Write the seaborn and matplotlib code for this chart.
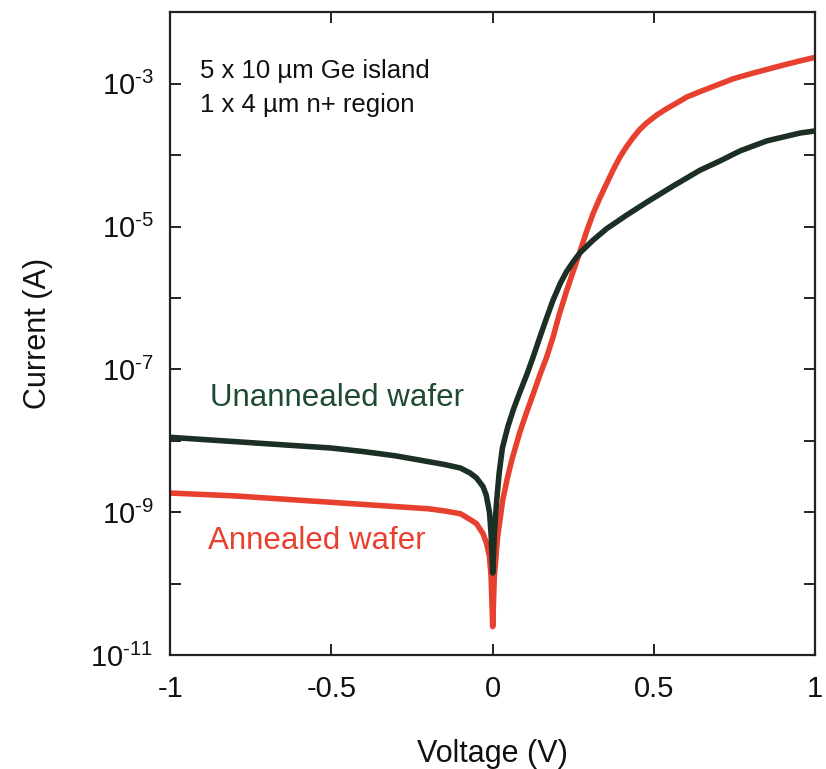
import numpy as np
import pandas as pd
import matplotlib
matplotlib.use("Agg")
import matplotlib.pyplot as plt
import matplotlib.ticker as mticker
import seaborn as sns

# ---- data ----
v_unannealed = [-1.0, -0.9, -0.8, -0.7, -0.6, -0.5, -0.4, -0.3, -0.2, -0.15, -0.1, -0.07,
                -0.05, -0.03, -0.02, -0.01, -0.005, 0.0, 0.005, 0.012, 0.02, 0.03, 0.047,
                0.065, 0.084, 0.105, 0.125, 0.146, 0.167, 0.187, 0.21, 0.229, 0.25, 0.27,
                0.311, 0.353, 0.415, 0.477, 0.56, 0.643, 0.705, 0.767, 0.85, 0.953, 1.0]
log_i_unannealed = [-7.95, -7.98, -8.01, -8.04, -8.07, -8.10, -8.15, -8.21, -8.29, -8.33, -8.38, -8.45,
                    -8.52, -8.64, -8.76, -9.00, -9.30, -9.85, -9.30, -8.85, -8.45, -8.10, -7.80,
                    -7.55, -7.32, -7.08, -6.83, -6.55, -6.28, -6.03, -5.79, -5.63, -5.49, -5.37,
                    -5.19, -5.03, -4.84, -4.66, -4.43, -4.21, -4.08, -3.94, -3.80, -3.69, -3.66]

v_annealed = [-1.0, -0.9, -0.8, -0.7, -0.6, -0.5, -0.4, -0.3, -0.2, -0.15, -0.1, -0.07,
              -0.05, -0.03, -0.02, -0.01, -0.005, 0.0, 0.005, 0.015, 0.031, 0.045, 0.059,
              0.084, 0.105, 0.125, 0.146, 0.167, 0.187, 0.205, 0.229, 0.25, 0.27, 0.29,
              0.311, 0.332, 0.353, 0.374, 0.394, 0.415, 0.436, 0.456, 0.477, 0.508, 0.539,
              0.57, 0.602, 0.643, 0.7, 0.746, 0.8, 0.85, 0.9, 0.953, 1.0]
log_i_annealed = [-8.73, -8.75, -8.77, -8.80, -8.83, -8.86, -8.89, -8.92, -8.95, -8.98, -9.02, -9.10,
                  -9.16, -9.30, -9.42, -9.62, -9.90, -10.60, -9.90, -9.35, -8.83, -8.53, -8.27,
                  -7.88, -7.60, -7.35, -7.08, -6.83, -6.55, -6.25, -5.90, -5.62, -5.36, -5.08,
                  -4.82, -4.60, -4.40, -4.20, -4.03, -3.88, -3.75, -3.64, -3.55, -3.44, -3.35,
                  -3.27, -3.185, -3.11, -3.01, -2.93, -2.86, -2.80, -2.74, -2.68, -2.63]

series_names = ["Unannealed wafer", "Annealed wafer"]
x_ticks = [-1, -0.5, 0, 0.5, 1]
x_tick_labels = ["-1", "-0.5", "0", "0.5", "1"]
info_lines = ["5 x 10 \u00b5m Ge island", "1 x 4 \u00b5m n+ region"]

df = pd.concat([
    pd.DataFrame({"Voltage": v_unannealed, "Current": np.power(10.0, log_i_unannealed),
                  "Sample": series_names[0]}),
    pd.DataFrame({"Voltage": v_annealed, "Current": np.power(10.0, log_i_annealed),
                  "Sample": series_names[1]}),
], ignore_index=True)

# ---- style ----
sns.set_theme(style="white")
plt.rcParams["font.family"] = ["Liberation Sans", "DejaVu Sans"]
plt.rcParams["mathtext.fontset"] = "custom"
plt.rcParams["mathtext.rm"] = "Liberation Sans"
plt.rcParams["mathtext.it"] = "Liberation Sans"
plt.rcParams["mathtext.bf"] = "Liberation Sans"
plt.rcParams["mathtext.default"] = "regular"

line_dark = "#1b2f24"
text_dark = "#1e4a31"
red = "#e8402f"

fig = plt.figure(figsize=(8.26, 7.69), dpi=100)
ax = fig.add_axes([0.206, 0.148, 0.781, 0.836])

sns.lineplot(data=df, x="Voltage", y="Current", hue="Sample",
             palette={series_names[0]: line_dark, series_names[1]: red},
             hue_order=[series_names[1], series_names[0]],
             estimator=None, linewidth=4.0, legend=False, ax=ax)

ax.set_yscale("log")
ax.set_xlim(-1, 1)
ax.set_ylim(1e-11, 1e-2)

ax.set_xticks(x_ticks)
ax.set_xticklabels(x_tick_labels)

ax.yaxis.set_major_locator(mticker.LogLocator(base=10, numticks=20))
ax.yaxis.set_minor_locator(mticker.NullLocator())

def yfmt(val, pos):
    e = int(round(np.log10(val)))
    if e % 2 != 0 and -11 <= e <= -3:
        return r"$10^{\text{%d}}$" % e
    return ""

ax.yaxis.set_major_formatter(mticker.FuncFormatter(yfmt))

ax.tick_params(axis="both", which="major", direction="in", length=8, width=1.4,
               bottom=True, left=True, top=True, right=True,
               colors="#222222", labelcolor="#111111")
ax.tick_params(axis="x", labelsize=21, pad=14)
ax.tick_params(axis="y", labelsize=21, pad=12)

for sp in ax.spines.values():
    sp.set_linewidth(1.6)
    sp.set_color("#222222")
    sp.set_visible(True)

ax.set_xlabel("Voltage (V)", fontsize=22, labelpad=26, color="#111111")
ax.set_ylabel("Current (A)", fontsize=22, labelpad=27, color="#111111")

ax.text(0.047, 0.908, info_lines[0], transform=ax.transAxes, fontsize=18.5,
        color="#111111", va="center", ha="left")
ax.text(0.047, 0.856, info_lines[1], transform=ax.transAxes, fontsize=18.5,
        color="#111111", va="center", ha="left")

ax.text(0.062, 0.40, series_names[0], transform=ax.transAxes, fontsize=22.5,
        color=text_dark, va="center", ha="left")
ax.text(0.059, 0.177, series_names[1], transform=ax.transAxes, fontsize=22.5,
        color=red, va="center", ha="left")

fig.savefig("out.png", dpi=100)
